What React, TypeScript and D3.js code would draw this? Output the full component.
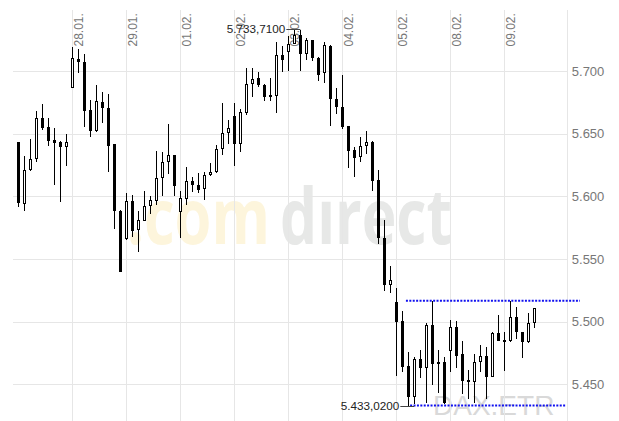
import * as d3 from "d3";

// Hourly candles (Xetra), 9 per day, last day partial
const dayLabels = ["28.01.", "29.01.", "01.02.", "02.02.", "03.02.", "04.02.", "05.02.", "08.02.", "09.02."];
const candlesPerDay = 9;
const yTicks = [5450, 5500, 5550, 5600, 5650, 5700];

const open = [
  5643.1, 5593.6, 5620.8, 5629.5, 5662.5, 5655.6, 5644.9, 5643.4, 5639.6,
  5686.7, 5709.3, 5706.9, 5668.9, 5651.9, 5675.3, 5670.7, 5641.8, 5588.5,
  5565.7, 5596.3, 5572.9, 5580.6, 5592.1, 5596.5, 5614.4, 5627.2, 5633.0,
  5587.3, 5597.9, 5612.0, 5608.8, 5606.1, 5616.8, 5619.2, 5637.5, 5650.3,
  5664.1, 5642.0, 5666.7, 5689.4, 5694.2, 5688.8, 5680.9, 5680.3, 5712.8,
  5714.9, 5721.5, 5728.7, 5713.3, 5724.7, 5710.6, 5698.2, 5719.9, 5677.7,
  5671.0, 5656.1, 5637.0, 5631.1, 5639.9, 5643.6, 5613.0, 5566.5, 5529.0,
  5515.4, 5500.5, 5464.6, 5440.1, 5470.0, 5463.3, 5497.3, 5466.0, 5467.6,
  5476.6, 5496.0, 5473.9, 5453.4, 5451.6, 5467.6, 5472.8, 5456.1, 5490.7,
  5485.4, 5484.3, 5503.5, 5491.5, 5483.5, 5498.7,
];
const high = [
  5643.5, 5632.2, 5645.7, 5668.1, 5673.4, 5662.5, 5654.8, 5644.1, 5649.7,
  5719.1, 5717.6, 5713.6, 5676.9, 5688.8, 5683.0, 5681.4, 5642.0, 5589.0,
  5602.9, 5600.8, 5588.3, 5604.3, 5600.3, 5636.2, 5635.1, 5657.7, 5633.3,
  5604.3, 5623.2, 5615.2, 5618.4, 5619.2, 5626.4, 5641.0, 5674.2, 5660.9,
  5674.7, 5669.4, 5702.2, 5702.2, 5699.4, 5689.4, 5694.2, 5722.9, 5720.2,
  5727.9, 5733.71, 5732.7, 5726.6, 5724.9, 5710.8, 5723.4, 5720.7, 5686.7,
  5696.8, 5656.3, 5639.6, 5647.6, 5651.9, 5644.5, 5621.0, 5581.1, 5544.4,
  5526.6, 5508.5, 5476.0, 5471.6, 5477.4, 5499.2, 5516.7, 5477.4, 5471.6,
  5501.3, 5500.8, 5484.6, 5461.4, 5474.0, 5481.4, 5480.0, 5492.0, 5505.3,
  5491.5, 5516.7, 5511.5, 5491.7, 5507.1, 5511.1,
];
const low = [
  5591.7, 5588.5, 5620.5, 5627.6, 5653.0, 5640.4, 5609.3, 5595.7, 5624.4,
  5686.5, 5698.6, 5655.6, 5647.1, 5651.5, 5658.8, 5619.7, 5573.7, 5539.5,
  5565.5, 5567.8, 5555.8, 5580.4, 5585.7, 5593.0, 5600.5, 5617.6, 5600.5,
  5567.0, 5593.0, 5603.7, 5602.4, 5597.0, 5616.5, 5619.0, 5632.7, 5641.5,
  5624.4, 5635.6, 5664.9, 5679.5, 5687.0, 5676.0, 5676.0, 5666.7, 5699.4,
  5700.0, 5721.3, 5700.0, 5708.8, 5708.0, 5692.0, 5690.2, 5656.4, 5665.5,
  5654.0, 5622.8, 5615.7, 5627.6, 5633.5, 5604.5, 5561.7, 5524.5, 5522.6,
  5456.9, 5460.0, 5433.02, 5434.0, 5454.8, 5434.9, 5449.5, 5442.8, 5434.3,
  5459.6, 5462.8, 5442.3, 5438.0, 5434.9, 5460.0, 5438.0, 5455.9, 5484.5,
  5460.9, 5484.1, 5485.9, 5470.8, 5483.3, 5494.7,
];
const close = [
  5594.9, 5620.8, 5629.5, 5662.5, 5654.3, 5644.4, 5642.8, 5639.6, 5643.1,
  5710.1, 5706.9, 5668.3, 5651.9, 5676.1, 5670.2, 5640.2, 5588.1, 5539.9,
  5596.3, 5572.6, 5580.9, 5592.1, 5596.8, 5614.4, 5627.2, 5633.0, 5608.5,
  5598.4, 5612.0, 5608.8, 5605.3, 5616.8, 5619.2, 5637.5, 5650.3, 5654.8,
  5642.0, 5667.3, 5689.4, 5693.4, 5688.8, 5679.5, 5679.5, 5712.8, 5708.8,
  5721.5, 5728.7, 5713.3, 5724.7, 5710.1, 5696.8, 5720.7, 5677.4, 5671.5,
  5655.1, 5636.4, 5630.8, 5640.2, 5643.1, 5612.5, 5567.0, 5529.3, 5533.2,
  5500.0, 5464.0, 5440.1, 5470.0, 5462.8, 5497.3, 5466.0, 5467.6, 5434.9,
  5496.0, 5472.8, 5452.9, 5451.6, 5467.6, 5472.8, 5456.1, 5491.2, 5484.8,
  5484.0, 5503.5, 5491.5, 5483.5, 5498.7, 5511.1,
];

// resistance / support lines (blue dotted)
const resistance = 5516.7;
const resistanceFrom = 64.6;
const support = 5433.02;
const supportFrom = 65.3;

const W = 619;
const H = 421;
const plot = { left: 13, right: 567.3, top: 10, bottom: 421 };
const font = "'Liberation Sans', Arial, sans-serif";

const fmt = (v: number) => {
  const s = v.toFixed(4).replace(".", ",");
  const [int, dec] = s.split(",");
  return int.slice(0, 1) + "." + int.slice(1) + "," + dec;
};

export default function App() {
  const x = d3.scaleLinear().domain([-0.9, 91.5]).range([plot.left, plot.right]);
  const y = d3.scaleLinear().domain([5420.7, 5748.7]).range([plot.bottom, plot.top]);
  const px = (i: number) => Math.floor(x(i)) + 0.5;
  const py = (v: number) => Math.round(y(v)) + 0.5;

  const maxI = d3.maxIndex(high);
  const minI = d3.minIndex(low);

  return (
    <svg
      width={W}
      height={H}
      style={{ position: "fixed", left: 0, top: 0, background: "#fff" }}
      fontFamily={font}
    >
      <rect width={W} height={H} fill="#fff" />

      {/* watermark */}
      <g fontFamily="'Open Sans', 'DejaVu Sans', sans-serif" fontWeight="bold" fontSize={77}>
        <text x={127} y={244} fill="#fdf5dc" textLength={143} lengthAdjust="spacingAndGlyphs">.com</text>
        <text x={280} y={244} fill="#e7e8e7" textLength={172} lengthAdjust="spacingAndGlyphs">dırect</text>
      </g>
      <text x={433} y={415} fontSize={28} fill="#d9d9d9">DAX.ETR</text>

      {/* grid */}
      <g stroke="#e6e6e6" strokeWidth={1} shapeRendering="crispEdges">
        {yTicks.map((t) => (
          <line key={t} x1={plot.left} x2={plot.right} y1={py(t)} y2={py(t)} />
        ))}
        {dayLabels.map((_, k) => (
          <line key={k} x1={px((k + 1) * candlesPerDay)} x2={px((k + 1) * candlesPerDay)} y1={plot.top} y2={plot.bottom} />
        ))}
        <line x1={Math.floor(plot.right) + 0.5} x2={Math.floor(plot.right) + 0.5} y1={plot.top} y2={plot.bottom} />
      </g>

      {/* right axis labels */}
      <g fill="#777" fontSize={13}>
        {yTicks.map((t) => (
          <text key={t} x={plot.right + 4.5} y={y(t)} dy="0.36em">
            {d3.format(",")(t).replace(",", ".")}
          </text>
        ))}
      </g>

      {/* top day labels */}
      <g fill="#777" fontSize={12}>
        {dayLabels.map((d, k) => (
          <text key={d} transform={`translate(${px((k + 1) * candlesPerDay) + 10},46.5) rotate(-90)`}>
            {d}
          </text>
        ))}
      </g>

      {/* candles */}
      <g shapeRendering="crispEdges">
        {open.map((o, i) => {
          const c = close[i];
          const up = c >= o;
          const cx = px(i);
          const top = Math.round(y(Math.max(o, c)));
          const bot = Math.round(y(Math.min(o, c)));
          return (
            <g key={i}>
              <line x1={cx} x2={cx} y1={Math.round(y(high[i]))} y2={Math.round(y(low[i]))} stroke="#000" />
              {up ? (
                <rect x={cx - 1} y={top + 0.5} width={2} height={Math.max(bot - top - 1, 1)} fill="#fff" stroke="#000" />
              ) : (
                <rect x={cx - 1.5} y={top} width={3} height={Math.max(bot - top, 1)} fill="#000" />
              )}
            </g>
          );
        })}
      </g>

      {/* support / resistance */}
      <g stroke="#1010f0" strokeWidth={2} strokeDasharray="2 1.4">
        <line x1={x(resistanceFrom)} x2={580} y1={y(resistance)} y2={y(resistance)} />
        <line x1={x(supportFrom)} x2={plot.right - 1} y1={y(support)} y2={y(support)} />
      </g>

      {/* extremes */}
      <g fontSize={11.7} fill="#222">
        <line x1={x(maxI) - 8} x2={x(maxI) + 6} y1={py(high[maxI])} y2={py(high[maxI])} stroke="#444" />
        <text x={x(maxI) - 9} y={y(high[maxI])} dy="0.36em" textAnchor="end">{fmt(high[maxI])}</text>
        <line x1={x(minI) - 8} x2={x(minI) + 6} y1={py(low[minI])} y2={py(low[minI])} stroke="#444" />
        <text x={x(minI) - 9} y={y(low[minI])} dy="0.36em" textAnchor="end">{fmt(low[minI])}</text>
      </g>
    </svg>
  );
}
